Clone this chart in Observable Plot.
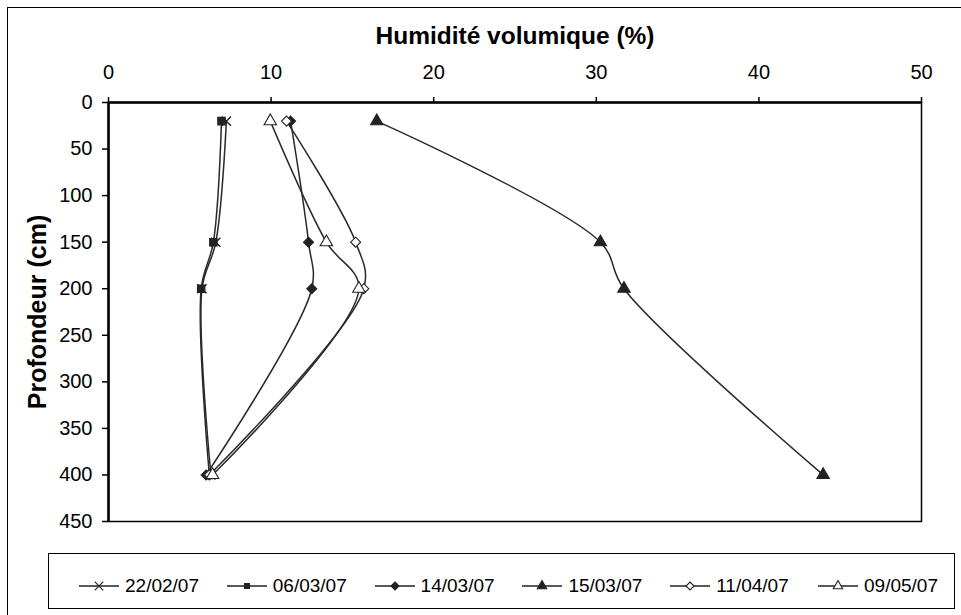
<!DOCTYPE html>
<html>
<head>
<meta charset="utf-8">
<script src="https://cdn.jsdelivr.net/npm/d3@7"></script>
<script src="https://cdn.jsdelivr.net/npm/@observablehq/plot@0.6"></script>
<style>
  body { margin: 0; background: #fff; font-family: "Liberation Sans", Arial, sans-serif; }
  #wrap { position: relative; width: 961px; height: 615px; overflow: hidden; background: #fff; }
  #border { position: absolute; left: 7px; top: 7px; width: 1000px; height: 700px; border: 1.5px solid #000; }
  #chart { position: absolute; left: 0; top: 0; }
  #legend { position: absolute; left: 48px; top: 553px; width: 907px; height: 56px; border: 1.5px solid #000; box-sizing: border-box; }
  .item { position: absolute; top: 20px; height: 24px; display: flex; align-items: center; font-size: 19px; color: #000; white-space: nowrap; }
  .item svg { margin-right: 6px; }
</style>
</head>
<body>
<div id="wrap">
  <div id="border"></div>
  <div id="chart"></div>
  <div id="legend"></div>
</div>
<script>
// ---- data ----
const depths = [20, 150, 200, 400];
const seriesNames = ["22/02/07", "06/03/07", "14/03/07", "15/03/07", "11/04/07", "09/05/07"];
const s22_02_07 = [7.25, 6.6, 5.75, 6.3];
const s06_03_07 = [6.95, 6.45, 5.7, 6.2];
const s14_03_07 = [11.2, 12.3, 12.5, 6.0];
const s15_03_07 = [16.5, 30.25, 31.7, 43.95];
const s11_04_07 = [10.95, 15.2, 15.7, 6.2];
const s09_05_07 = [9.95, 13.4, 15.4, 6.4];
const xTicks = [0, 10, 20, 30, 40, 50];
const yTicks = [0, 50, 100, 150, 200, 250, 300, 350, 400, 450];
const xTitle = "Humidité volumique (%)";
const yTitle = "Profondeur (cm)";

// ---- styles ----
const seriesValues = [s22_02_07, s06_03_07, s14_03_07, s15_03_07, s11_04_07, s09_05_07];
const symbols = ["times", "square", "diamond2", "triangle", "diamond2", "triangle"];
const fills = ["none", "#222", "#222", "#222", "#fff", "#fff"];
const radii = [4.2, 4.2, 4.5, 4.6, 4.5, 4.6];
const d3Symbols = [d3.symbolTimes, d3.symbolSquare, d3.symbolDiamond2, d3.symbolTriangle, d3.symbolDiamond2, d3.symbolTriangle];
const legendSizes = [50, 25, 41, 38, 41, 38];

const rows = [];
seriesNames.forEach((name, i) => {
  depths.forEach((d, j) => rows.push({series: name, depth: d, value: seriesValues[i][j], idx: i}));
});

const dotMarks = seriesNames.map((name, i) =>
  Plot.dot(rows.filter(r => r.series === name), {
    x: "value", y: "depth", symbol: symbols[i], r: radii[i],
    fill: fills[i], stroke: "#222", strokeWidth: i === 0 ? 1.4 : 1.1
  })
);

const chart = Plot.plot({
  width: 961,
  height: 540,
  marginLeft: 108,
  marginRight: 40,
  marginTop: 102,
  marginBottom: 19,
  x: {domain: [0, 50]},
  y: {domain: [0, 450], reverse: true},
  style: {fontFamily: "'Liberation Sans', Arial, sans-serif", fontSize: "20px", color: "#000", background: "transparent"},
  marks: [
    Plot.frame({stroke: "#000", strokeWidth: 1.5}),
    Plot.axisX({anchor: "top", ticks: xTicks, tickSize: 6, tickPadding: 18, label: null, fontSize: 20, strokeWidth: 1.5}),
    Plot.axisY({anchor: "left", ticks: yTicks, tickSize: 6, tickPadding: 10, label: null, fontSize: 20, strokeWidth: 1.5}),
    Plot.ruleY([0], {stroke: "#000", strokeWidth: 2.5}),
    Plot.ruleX([0], {stroke: "#000", strokeWidth: 2.5}),
    Plot.line(rows, {x: "value", y: "depth", z: "series", curve: "catmull-rom", stroke: "#2a2a2a", strokeWidth: 1.5}),
    ...dotMarks,
    Plot.text([xTitle], {frameAnchor: "top", text: d => d, dy: -66, lineAnchor: "middle", textAnchor: "middle", fontWeight: "bold", fontSize: 24.5}),
    Plot.text([yTitle], {frameAnchor: "left", text: d => d, dx: -71, rotate: -90, lineAnchor: "middle", textAnchor: "middle", fontWeight: "bold", fontSize: 25})
  ]
});
document.getElementById("chart").appendChild(chart);

// ---- legend ----
const legend = d3.select("#legend");
seriesNames.forEach((name, i) => {
  const item = legend.append("div").attr("class", "item").style("left", (30 + i * 147.8) + "px");
  const svg = item.append("svg").attr("width", 40).attr("height", 20);
  svg.append("line").attr("x1", 0).attr("x2", 40).attr("y1", 10).attr("y2", 10).attr("stroke", "#222").attr("stroke-width", 1.3);
  svg.append("path")
    .attr("transform", "translate(20,10)")
    .attr("d", d3.symbol(d3Symbols[i], legendSizes[i])())
    .attr("fill", fills[i])
    .attr("stroke", "#222")
    .attr("stroke-width", 1.1);
  item.append("span").text(name);
});
</script>
</body>
</html>
